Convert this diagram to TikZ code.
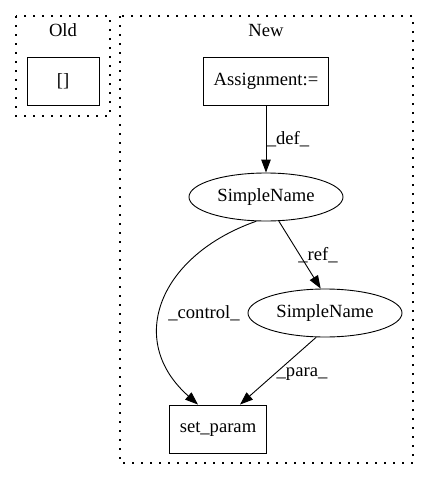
\documentclass[tikz,border=0pt]{standalone}
\usepackage{fontspec}
\setmainfont{Liberation Serif}
\usetikzlibrary{arrows.meta,shapes.geometric}
\begin{document}
\begin{tikzpicture}[x=1pt,y=-1pt,
  every node/.style={font=\fontsize{18.6pt}{21pt}\selectfont},
  box/.style={draw,line width=0.9pt,rectangle,inner sep=0pt},
  ell/.style={draw,line width=0.9pt,ellipse,inner sep=0pt,minimum width=154pt,minimum height=48pt},
  cluster/.style={draw,line width=1.4pt,dash pattern=on 1.6pt off 7.4pt},
  edge/.style={draw,line width=0.9pt,-{Triangle[length=13pt,width=9.5pt]}},
  lbl/.style={inner sep=1pt}
]
\useasboundingbox (0,0) rectangle (429,480);
\draw[cluster] (16,16) rectangle (110,116);
\draw[cluster] (120,16) rectangle (413,463);
\node (old) at (63,30) {Old};
\node (new) at (266,30) {New};
\node[box,minimum width=72pt,minimum height=48pt] (br) at (63,81) {[]};
\node[box,minimum width=125pt,minimum height=48pt] (asg) at (266,81) {Assignment:=};
\node[ell] (sn1) at (266,197) {SimpleName};
\node[ell] (sn2) at (325,313) {SimpleName};
\node[box,minimum width=97pt,minimum height=48pt] (sp) at (218,429) {set\_param};
\draw[edge] (asg) -- (sn1);
\node[lbl] (ldef) at (288,139) {\_def\_};
\draw[edge] (sn1.248) .. controls (160,255) and (125,340) .. ([xshift=-20pt]sp.north);
\node[lbl] (lctl) at (204,313) {\_control\_};
\draw[edge] (sn1.298) -- (sn2.100);
\node[lbl] (lref) at (318,255) {\_ref\_};
\draw[edge] (sn2.250) -- ([xshift=22pt]sp.north);
\node[lbl] (lpara) at (302,374) {\_para\_};
\end{tikzpicture}
\end{document}
